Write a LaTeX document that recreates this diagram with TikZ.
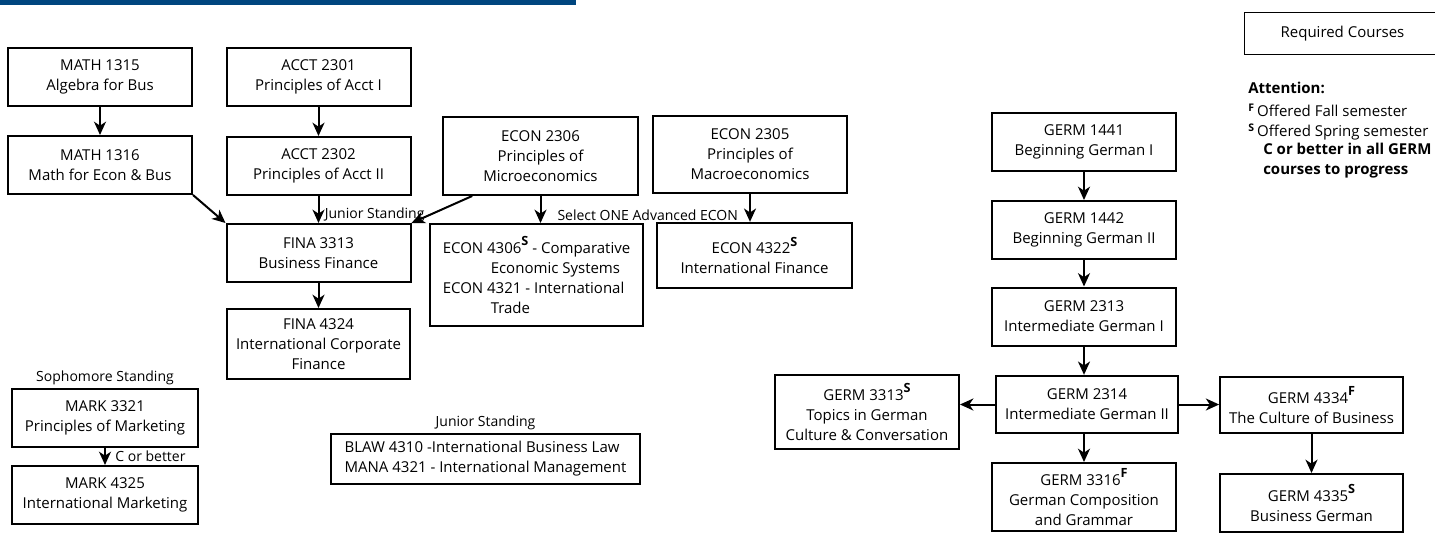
\documentclass[tikz,border=0pt]{standalone}
\usepackage{fontspec}
\setmainfont{Open Sans}
\usetikzlibrary{arrows.meta,positioning}
\definecolor{headblue}{RGB}{0,70,127}
\newcommand{\semtag}[1]{\raisebox{5.5pt}{\fontsize{9.5}{10}\selectfont\bfseries #1}}
\newcommand{\legtag}[1]{\textsuperscript{\textbf{#1}}}

\begin{document}
\begin{tikzpicture}[x=0.75pt,y=-0.75pt,
	font=\fontsize{11.25}{15}\selectfont,
	>={Stealth[length=10pt,width=9pt,inset=3pt]},
	course/.style={draw,line width=1.5pt,align=center,inner sep=2pt},
	stdbox/.style={course,minimum width=138pt,minimum height=43.5pt},
	note/.style={font=\fontsize{10.5}{12}\selectfont,inner sep=1pt},
	link/.style={->,line width=1.5pt}]
\useasboundingbox (0,0) rectangle (1435,536);
\fill[headblue] (0,0) rectangle (576,5);

%----------------------------
% Left: Math, Accounting, Finance
%----------------------------
\node[stdbox] (m1315) at (100,77) {MATH 1315\\Algebra for Bus};
\node[stdbox] (m1316) at (100,165) {MATH 1316\\Math for Econ \& Bus};
\node[stdbox] (a2301) at (318.5,77) {ACCT 2301\\Principles of Acct I};
\node[stdbox] (a2302) at (318.5,166) {ACCT 2302\\Principles of Acct II};
\node[stdbox] (f3313) at (318.5,253) {FINA 3313\\Business Finance};
\node[course,minimum width=137pt,minimum height=52.5pt] (f4324) at (318.5,344)
	{FINA 4324\\International Corporate\\Finance};

%----------------------------
% Middle: Economics
%----------------------------
\node[course,minimum width=146pt,minimum height=58.5pt] (e2306) at (540.5,156)
	{ECON 2306\\Principles of\\Microeconomics};
\node[course,minimum width=145.5pt,minimum height=58pt] (e2305) at (750,154.5)
	{ECON 2305\\Principles of\\Macroeconomics};
\node[course,align=left,minimum width=160pt,minimum height=76.5pt] (e4306) at (536.5,275)
	{ECON 4306\semtag{S} - Comparative\\\hspace*{36pt}Economic Systems\\
	 ECON 4321 - International\\\hspace*{36pt}Trade};
\node[course,minimum width=146pt,minimum height=49pt] (e4322) at (754.5,255.5)
	{ECON 4322\semtag{S}\\International Finance};

%----------------------------
% Bottom left: Marketing, Law, Management
%----------------------------
\node[course,minimum width=140pt,minimum height=43.5pt] (k3321) at (105,418)
	{MARK 3321\\Principles of Marketing};
\node[course,minimum width=140pt,minimum height=43.5pt] (k4325) at (105,495)
	{MARK 4325\\International Marketing};
\node[note,above=1pt of k3321] (soph) {Sophomore Standing};
\node[course,align=left,minimum width=232pt,minimum height=37.5pt] (blaw) at (485.5,459)
	{BLAW 4310 -International Business Law\\MANA 4321 - International Management};
\node[note,above=1pt of blaw] (junior) {Junior Standing};

%----------------------------
% Right: German
%----------------------------
\node[stdbox] (g1441) at (1084,142) {GERM 1441\\Beginning German I};
\node[stdbox] (g1442) at (1084,230) {GERM 1442\\Beginning German II};
\node[stdbox] (g2313) at (1084,316.5) {GERM 2313\\Intermediate German I};
\node[course,minimum width=136.5pt,minimum height=43pt] (g2314) at (1087,404.5)
	{GERM 2314\\Intermediate German II};
\node[course,minimum width=138pt,minimum height=55.5pt] (g3313) at (867,412)
	{GERM 3313\semtag{S}\\Topics in German\\Culture \& Conversation};
\node[course,minimum width=138pt,minimum height=51pt] (g3316) at (1084,497)
	{GERM 3316\semtag{F}\\German Composition\\and Grammar};
\node[course,minimum width=137pt,minimum height=42pt] (g4334) at (1311.5,405)
	{GERM 4334\semtag{F}\\The Culture of Business};
\node[stdbox,minimum width=137pt] (g4335) at (1311.5,503)
	{GERM 4335\semtag{S}\\Business German};

%----------------------------
% Legend
%----------------------------
\node[course,line width=0.9pt,minimum width=147pt,minimum height=31pt] (req) at (1342.5,33.5)
	{Required Courses};
\node[anchor=west,inner sep=0pt] (att) at (1248,88) {\textbf{Attention:}};
\node[anchor=west,inner sep=0pt] (fall) at (1248,110) {\legtag{F}\,Offered Fall semester};
\node[anchor=west,inner sep=0pt] (spring) at (1248,132) {\legtag{S}\,Offered Spring semester};
\node[anchor=west,align=left,inner sep=0pt] (gradec) at (1263,161)
	{\textbf{C or better in all GERM}\\\textbf{courses to progress}};

%----------------------------
% Arrows
%----------------------------
\draw[link] (m1315) -- (m1316);
\draw[link] (a2301) -- (a2302);
\draw[link] (a2302) -- (f3313) node[note,pos=0.7,right=3pt] {Junior Standing};
\draw[link] (f3313) -- (f4324);
\draw[link] (m1316.south east) -- (f3313.north west);
\draw[link] ([xshift=22.5pt]e2306.south west) -- (f3313.north east);
\draw[link] (e2306.south) -- (e2306.south |- e4306.north)
	node[note,pos=0.7,right=11pt] {Select ONE Advanced ECON};
\draw[link] (e2305.south) -- (e2305.south |- e4322.north);
\draw[link] (k3321) -- (k4325) node[note,midway,right=6pt] {C or better};

\draw[link] (g1441) -- (g1442);
\draw[link] (g1442) -- (g2313);
\draw[link] (g2313.south) -- (g2313.south |- g2314.north);
\draw[link] (g2314.west) -- (g2314.west -| g3313.east);
\draw[link] (g2314.east) -- (g2314.east -| g4334.west);
\draw[link] (g3316.north |- g2314.south) -- (g3316);
\draw[link] (g4334) -- (g4335);

\end{tikzpicture}
\end{document}
